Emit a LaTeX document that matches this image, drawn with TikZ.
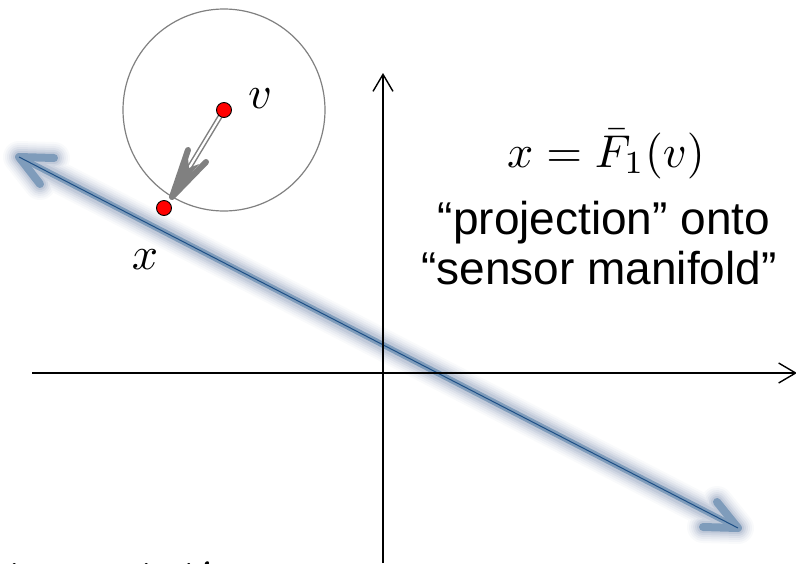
\documentclass[tikz,border=0pt]{standalone}
\usepackage{graphicx}
\usepackage{fontspec}
\newfontfamily\arialf{Liberation Sans}
\usetikzlibrary{arrows.meta}
\definecolor{glowc}{HTML}{8A9AB8}
\definecolor{bandc}{HTML}{7F9CBB}
\definecolor{linec}{HTML}{1D4F86}
\definecolor{arrgray}{HTML}{808080}
\newcommand{\bigmath}[2]{\scalebox{#1}{$#2$}}
\tikzset{
  axisline/.style={line width=1.8pt, -{Straight Barb[length=17pt,width=20pt,line width=1.4pt]}},
  reddot/.style={circle, fill=red, draw=black, line width=0.9pt, minimum size=15pt, inner sep=0pt},
  mathlbl/.style={anchor=base, inner sep=0pt},
  sanslbl/.style={anchor=base, font=\arialf\fontsize{46}{50}\selectfont, inner sep=0pt},
  glowpath/.style={line cap=round, line join=round, draw=glowc},
}
\begin{document}
\begin{tikzpicture}[x=1pt,y=-1pt]
\useasboundingbox (0,0) rectangle (796,563);
% blue sensor manifold arrow
\coordinate (A) at (19,157);
\coordinate (B) at (738,528);
\coordinate (a1) at (54,158);
\coordinate (a2) at (40,184);
\coordinate (b1) at (717,502);
\coordinate (b2) at (703,527);
\foreach \w/\o in {32/0.05, 28/0.07, 24/0.09, 20/0.12, 16/0.16, 12/0.22} {
  \draw[glowpath, line width=\w pt, opacity=\o] (a1) -- (A) -- (a2) (A) -- (B) (b1) -- (B) -- (b2);
}
\draw[line cap=round, line join=round, draw=bandc, line width=6pt] (A) -- (B);
\draw[line cap=round, line join=round, draw=bandc, line width=8pt] (a1) -- (A) -- (a2) (b1) -- (B) -- (b2);
\draw[draw=linec, line width=1pt] (A) -- (B);
% axes
\coordinate (xs) at (32,373);
\coordinate (xe) at (797,373);
\coordinate (ys) at (383,563);
\coordinate (ye) at (383,73);
\draw[axisline] (xs) -- (xe);
\draw[axisline] (ys) -- (ye);
% circle
\coordinate (V) at (224,110);
\draw[arrgray, line width=1.2pt] (V) circle[radius=101];
% gray projection arrow
\coordinate (T) at (172,197);
\coordinate (S) at (189,168);
\coordinate (h1) at (188,150);
\coordinate (h2) at (206,162);
\draw[arrgray, line width=1.5pt, double=white, double distance=2.2pt] (V) -- (S);
\draw[arrgray, line width=6pt, line cap=round, line join=round] (h1) -- (T) -- (h2);
\fill[arrgray] (T) -- (188,158) -- (S) -- (199,164) -- cycle;
% points
\node[reddot] (v) at (V) {};
\node[reddot] (x) at (164,208) {};
\node[mathlbl] (vl) at (260,108) {\bigmath{4.6}{v}};
\node[mathlbl] (xl) at (145,269) {\bigmath{4.6}{x}};
% texts
\node[mathlbl] (eq) at (606,167) {\bigmath{4.6}{x=\bar{F}_1(v)}};
\node[sanslbl] (t1) at (604,234) {“projection” onto};
\node[sanslbl] (t2) at (599,284) {“sensor manifold”};
\node[anchor=base west, inner sep=0pt] (cut) at (-42,593) {\bigmath{4.8}{interpretation}};
\end{tikzpicture}
\end{document}
